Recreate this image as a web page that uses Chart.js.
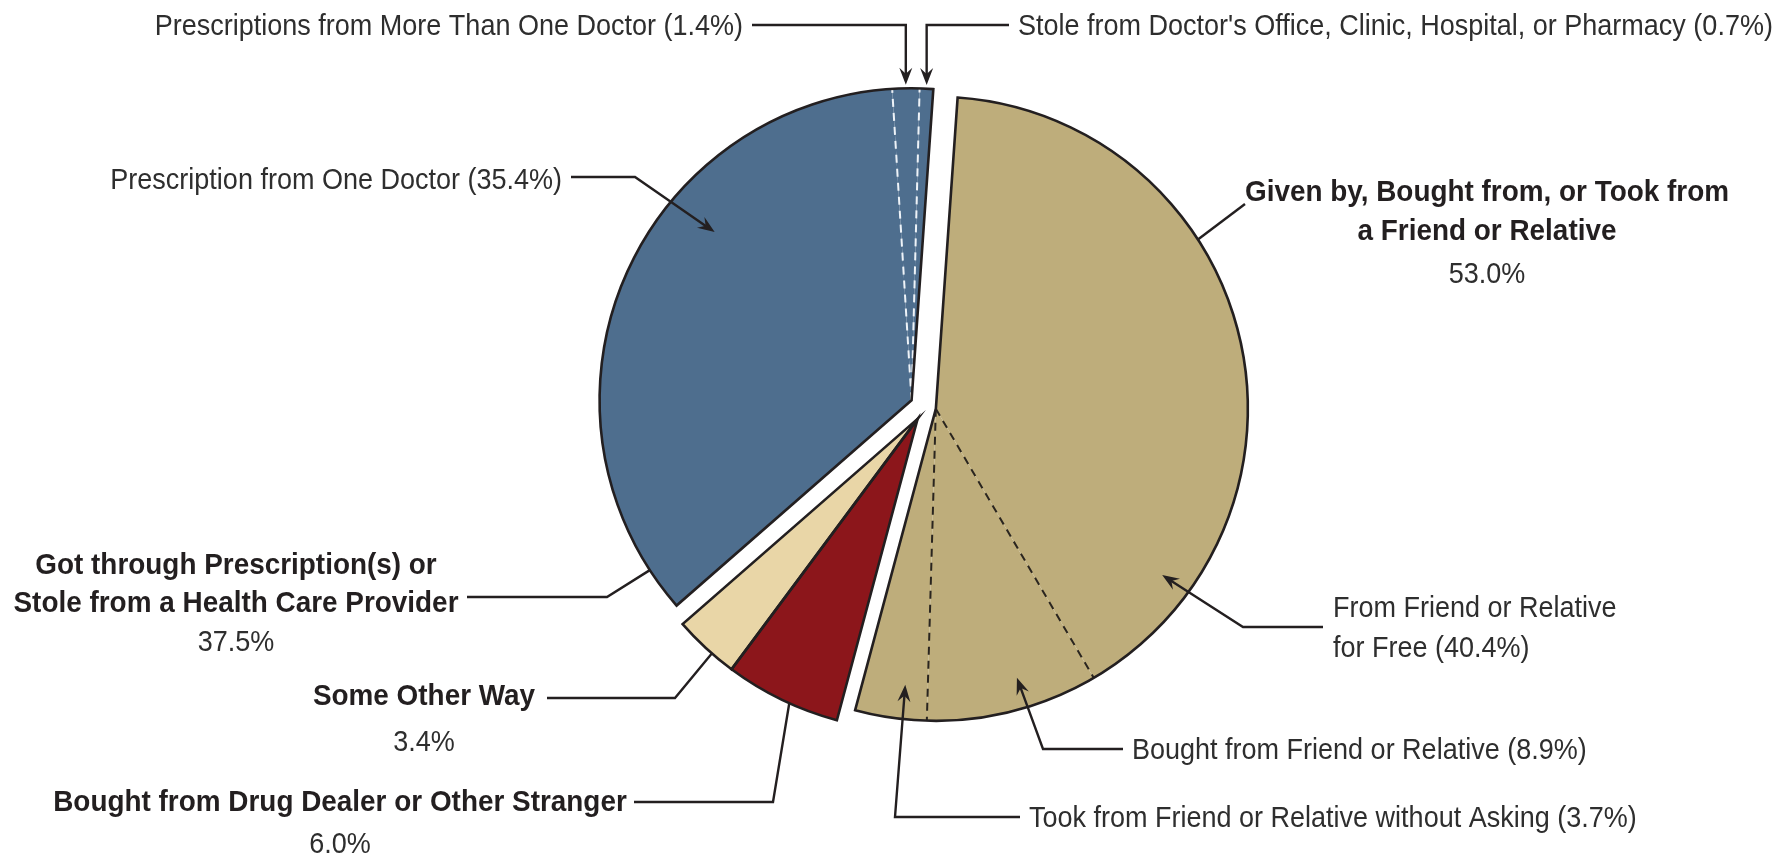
<!DOCTYPE html>
<html>
<head>
<meta charset="utf-8">
<script src="https://cdn.jsdelivr.net/npm/chart.js@4.4.1/dist/chart.umd.min.js"></script>
<style>
  html, body { margin: 0; padding: 0; background: #fff; }
  #wrap { width: 1787px; height: 865px; position: relative; }
</style>
</head>
<body>
<div id="wrap"><canvas id="pie"></canvas></div>
<script>
// ======================================================
// DATA
// ======================================================
const sources = [
  "From Friend or Relative for Free",
  "Bought from Friend or Relative",
  "Took from Friend or Relative without Asking",
  "Bought from Drug Dealer or Other Stranger",
  "Some Other Way",
  "Prescription from One Doctor",
  "Prescriptions from More Than One Doctor",
  "Stole from Doctor's Office, Clinic, Hospital, or Pharmacy"
];
const shares = [40.4, 8.9, 3.7, 6.0, 3.4, 35.4, 1.4, 0.7];
const sourceGroup = [0, 0, 0, 1, 2, 3, 3, 3];

const groupNames = [
  "Given by, Bought from, or Took from a Friend or Relative",
  "Bought from Drug Dealer or Other Stranger",
  "Some Other Way",
  "Got through Prescription(s) or Stole from a Health Care Provider"
];
const groupShares = [53.0, 6.0, 3.4, 37.5];


// ======================================================
// STYLE
// ======================================================
const groupColors   = ["#bead7b", "#8c161b", "#e9d6a7", "#4e6e8e"];
const dividerColors = ["#2a251f", null, null, "#eef3f8"];
const explodeCluster = [0, 1, 1, 2];     // red + cream slide out together
const explodeBy      = [11, 14, 15];
const groupWrap      = ["a", null, null, "Stole"];

const INK = "#231f20";
const TEXT_REG = "#2e2e2e";
const FONT_SIZE = 30;
const X_SCALE_REG = 0.9;
const X_SCALE_BOLD = 0.93;
const TEXT_DY = 2;
const FONT_FAMILY = "'Liberation Sans', Arial, sans-serif";

const pct = v => v.toFixed(1) + "%";
const subLabel = i => `${sources[i]} (${pct(shares[i])})`;

function splitBefore(str, word) {
  if (!word) return [str];
  const i = str.indexOf(" " + word + " ");
  return i < 0 ? [str] : [str.slice(0, i), str.slice(i + 1)];
}

function groupLines(g) {
  return splitBefore(groupNames[g], groupWrap[g])
    .map(t => [t, true])
    .concat([[pct(groupShares[g]), false]]);
}

function slicesOf(g) {
  return sourceGroup.map((s, i) => s === g ? i : -1).filter(i => i >= 0);
}


// ======================================================
// LABEL LAYOUT (text boxes + leader elbows, anchors come from the arcs)
// ======================================================
const labelLayout = [
  // thin blue slices at the top
  { slice: 6, f: 0.5, r: 1.012, arrow: true, path: [[null, 25], [752, 25]],
    lines: [[subLabel(6), false]], x: 743, y: [25], align: "right" },
  { slice: 7, f: 0.5, r: 1.012, arrow: true, path: [[null, 25], [1009, 25]],
    lines: [[subLabel(7), false]], x: 1018, y: [25], align: "left" },
  { slice: 5, f: 0.64, r: 0.83, arrow: true, path: [[635, 177], [571, 177]],
    lines: [[subLabel(5), false]], x: 562, y: [179], align: "right" },

  // friend / relative group
  { slice: 0, f: 0.365, r: 1, arrow: false, path: [[1245, 204]],
    lines: groupLines(0), x: 1487, y: [191, 230, 273], align: "center" },
  { slice: 0, f: 0.84, r: 0.9, arrow: true, path: [[1243, 627], [1323, 627]],
    lines: splitBefore(subLabel(0), "for").map(t => [t, false]), x: 1333, y: [607, 647], align: "left" },
  { slice: 1, f: 0.425, r: 0.9, arrow: true, path: [[1043, 749], [1123, 749]],
    lines: [[subLabel(1), false]], x: 1132, y: [749], align: "left" },
  { slice: 2, f: 0.35, r: 0.89, arrow: true, path: [[895, 817], [1020, 817]],
    lines: [[subLabel(2), false]], x: 1029, y: [817], align: "left" },

  // left side groups
  { slice: 5, f: 0.064, r: 1, arrow: false, path: [[607, 597], [467, 597]],
    lines: groupLines(3), x: 236, y: [564, 602, 641], align: "center" },
  { slice: 4, f: 0.38, r: 1, arrow: false, path: [[675, 698], [547, 698]],
    lines: groupLines(2), x: 424, y: [695, 741], align: "center" },
  { slice: 3, f: 0.43, r: 1, arrow: false, path: [[773, 802], [634, 802]],
    lines: groupLines(1), x: 340, y: [801, 843], align: "center" }
];


// ======================================================
// PLUGINS
// ======================================================
const explodePlugin = {
  id: "explode",
  afterDatasetUpdate(chart, args) {
    const arcs = args.meta.data;
    const clusters = {};
    groupNames.forEach((_, g) => {
      const c = explodeCluster[g];
      (clusters[c] = clusters[c] || []).push(...slicesOf(g));
    });
    Object.keys(clusters).forEach(c => {
      const idx = clusters[c].sort((a, b) => a - b);
      const first = arcs[idx[0]], last = arcs[idx[idx.length - 1]];
      const mid = (first.startAngle + last.endAngle) / 2;
      const d = explodeBy[c];
      idx.forEach(i => {
        arcs[i].x += Math.cos(mid) * d;
        arcs[i].y += Math.sin(mid) * d;
      });
    });
  }
};

const outlinePlugin = {
  id: "outline",
  afterDatasetsDraw(chart) {
    const ctx = chart.ctx;
    const arcs = chart.getDatasetMeta(0).data;

    groupNames.forEach((_, g) => {
      const idx = slicesOf(g);
      const first = arcs[idx[0]], last = arcs[idx[idx.length - 1]];
      const { x, y, outerRadius: r } = first;

      if (idx.length > 1) {
        ctx.save();
        ctx.setLineDash([8, 6]);
        ctx.lineWidth = 2;
        ctx.strokeStyle = dividerColors[g];
        idx.slice(1).forEach(i => {
          const a = arcs[i].startAngle;
          ctx.beginPath();
          ctx.moveTo(x, y);
          ctx.lineTo(x + Math.cos(a) * r, y + Math.sin(a) * r);
          ctx.stroke();
        });
        ctx.restore();
      }

      ctx.save();
      ctx.lineWidth = 2.6;
      ctx.strokeStyle = INK;
      ctx.lineJoin = "miter";
      ctx.beginPath();
      ctx.moveTo(x, y);
      ctx.arc(x, y, r, first.startAngle, last.endAngle);
      ctx.closePath();
      ctx.stroke();
      ctx.restore();
    });
  }
};

function drawText(ctx, str, x, y, align, bold) {
  ctx.save();
  ctx.font = (bold ? "bold " : "") + FONT_SIZE + "px " + FONT_FAMILY;
  ctx.fillStyle = bold ? INK : TEXT_REG;
  ctx.textBaseline = "middle";
  ctx.textAlign = align;
  ctx.translate(x, y + TEXT_DY);
  ctx.scale(bold ? X_SCALE_BOLD : X_SCALE_REG, 1);
  ctx.fillText(str, 0, 0);
  ctx.restore();
}

function drawArrowHead(ctx, tip, from) {
  const ang = Math.atan2(tip[1] - from[1], tip[0] - from[0]);
  ctx.save();
  ctx.translate(tip[0], tip[1]);
  ctx.rotate(ang);
  ctx.beginPath();
  ctx.moveTo(0, 0);
  ctx.lineTo(-17, -6.5);
  ctx.lineTo(-11, 0);
  ctx.lineTo(-17, 6.5);
  ctx.closePath();
  ctx.fillStyle = INK;
  ctx.fill();
  ctx.restore();
}

const labelPlugin = {
  id: "labels",
  afterDraw(chart) {
    const ctx = chart.ctx;
    const arcs = chart.getDatasetMeta(0).data;

    labelLayout.forEach(lab => {
      const arc = arcs[lab.slice];
      const a = arc.startAngle + lab.f * (arc.endAngle - arc.startAngle);
      const rr = arc.outerRadius * lab.r;
      const anchor = [arc.x + Math.cos(a) * rr, arc.y + Math.sin(a) * rr];
      const pts = [anchor].concat(lab.path.map(p => [p[0] === null ? anchor[0] : p[0], p[1]]));

      // leader
      let start = pts[0];
      if (lab.arrow) {
        const dx = pts[1][0] - pts[0][0], dy = pts[1][1] - pts[0][1];
        const len = Math.hypot(dx, dy);
        start = [pts[0][0] + dx / len * 10, pts[0][1] + dy / len * 10];
      }
      ctx.save();
      ctx.lineWidth = 2.4;
      ctx.strokeStyle = INK;
      ctx.lineJoin = "miter";
      ctx.beginPath();
      ctx.moveTo(start[0], start[1]);
      pts.slice(1).forEach(p => ctx.lineTo(p[0], p[1]));
      ctx.stroke();
      ctx.restore();
      if (lab.arrow) drawArrowHead(ctx, pts[0], pts[1]);

      // text
      lab.lines.forEach((ln, k) => drawText(ctx, ln[0], lab.x, lab.y[k], lab.align, ln[1]));
    });
  }
};


// ======================================================
// CHART
// ======================================================
new Chart(document.getElementById("pie"), {
  type: "pie",
  data: {
    labels: sources,
    datasets: [{
      data: shares,
      backgroundColor: sourceGroup.map(g => groupColors[g]),
      borderWidth: 0
    }]
  },
  options: {
    responsive: true,
    maintainAspectRatio: false,
    devicePixelRatio: 1,
    animation: false,
    events: [],
    rotation: 4,
    radius: 312,
    layout: { padding: { left: 63, right: 0, top: 0, bottom: 51 } },
    plugins: {
      legend: { display: false },
      tooltip: { enabled: false }
    }
  },
  plugins: [explodePlugin, outlinePlugin, labelPlugin]
});
</script>
</body>
</html>
